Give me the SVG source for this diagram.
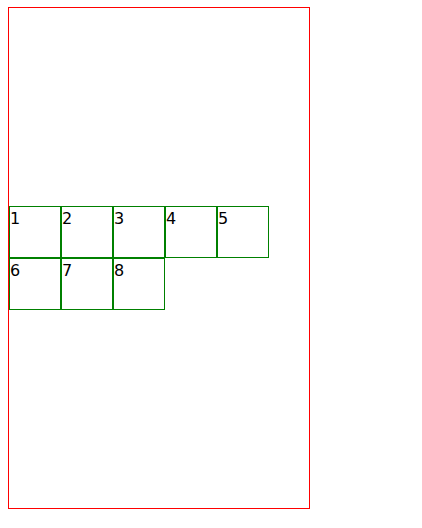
<svg xmlns="http://www.w3.org/2000/svg" width="422" height="528" viewBox="0 0 422 528">
<style>
.box rect{fill:none;stroke:#008000;stroke-width:1}
.box text{font-family:"DejaVu Sans",sans-serif;font-size:16px;fill:#000}
</style>
<rect width="422" height="528" fill="#fff"/>
<rect id="container" x="8.5" y="7.5" width="301" height="501" fill="none" stroke="#ff0000" stroke-width="1"/>
<g id="connectors"></g>
<g id="n1" class="box"><rect x="9.5" y="206.5" width="51" height="51"/><text x="10" y="224">1</text></g>
<g id="n2" class="box"><rect x="61.5" y="206.5" width="51" height="51"/><text x="62" y="224">2</text></g>
<g id="n3" class="box"><rect x="113.5" y="206.5" width="51" height="51"/><text x="114" y="224">3</text></g>
<g id="n4" class="box"><rect x="165.5" y="206.5" width="51" height="51"/><text x="166" y="224">4</text></g>
<g id="n5" class="box"><rect x="217.5" y="206.5" width="51" height="51"/><text x="218" y="224">5</text></g>
<g id="n6" class="box"><rect x="9.5" y="258.5" width="51" height="51"/><text x="10" y="276">6</text></g>
<g id="n7" class="box"><rect x="61.5" y="258.5" width="51" height="51"/><text x="62" y="276">7</text></g>
<g id="n8" class="box"><rect x="113.5" y="258.5" width="51" height="51"/><text x="114" y="276">8</text></g>
</svg>
